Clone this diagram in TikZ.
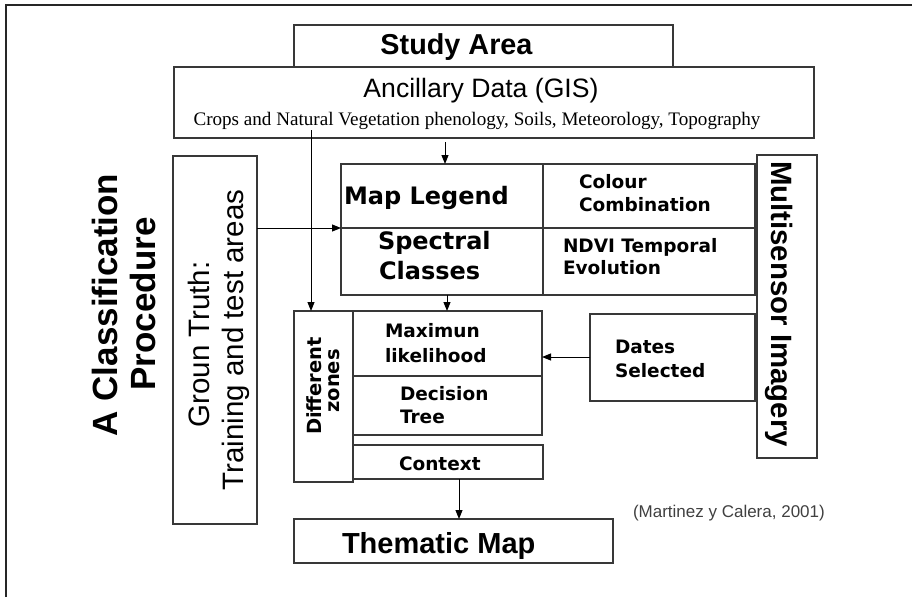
\documentclass[tikz,border=0pt]{standalone}
\usepackage{fontspec}
\setmainfont{Liberation Serif}
\newfontfamily\arialf{Liberation Sans}
\newfontfamily\verdf{DejaVu Sans}
\usetikzlibrary{arrows.meta}
\newcommand{\fsz}[1]{\fontsize{#1}{#1}\selectfont}

\begin{document}
\begin{tikzpicture}[x=1pt,y=-1pt,
  box/.style={draw=black!78, line width=1.4pt, inner sep=0pt, outer sep=0pt, anchor=north west},
  arr/.style={draw=black, line width=1pt, -{Triangle[length=9pt,width=7pt]}},
  lbl/.style={inner sep=0pt, outer sep=0pt, anchor=base west},
  vb/.style={lbl, font=\verdf\bfseries\fsz{18.5}},
  vbig/.style={lbl, font=\verdf\bfseries\fsz{24}},
  ab/.style={font=\arialf\bfseries\fsz{#1}},
  ar/.style={font=\arialf\fsz{#1}},
]
\useasboundingbox (0,0) rectangle (912,597);

% page frame (top and left rules)
\draw[line width=2.2pt, black!85] (6,597) -- (6,5) -- (912,5);

% boxes
\node[box, minimum width=379pt, minimum height=42pt] (study) at (294,25) {};
\node[box, minimum width=640pt, minimum height=71pt, fill=white] (anc) at (174,67) {};
\node[box, minimum width=84pt,  minimum height=368pt] (gt) at (173,156) {};
\node[box, minimum width=202pt, minimum height=64pt] (ml) at (341,164) {};
\node[box, minimum width=212pt, minimum height=64pt] (cc) at (543,164) {};
\node[box, minimum width=202pt, minimum height=67pt] (sc) at (341,228) {};
\node[box, minimum width=212pt, minimum height=67pt] (ndvi) at (543,228) {};
\node[box, minimum width=60pt,  minimum height=303pt] (multi) at (757,155) {};
\node[box, minimum width=59pt,  minimum height=171pt] (dz) at (294,311) {};
\node[box, minimum width=189pt, minimum height=65pt] (maxl) at (353,311) {};
\node[box, minimum width=189pt, minimum height=59pt] (dt) at (353,376) {};
\node[box, minimum width=190pt, minimum height=34pt] (ctx) at (353,445) {};
\node[box, minimum width=165pt, minimum height=87pt] (dates) at (590,314) {};
\node[box, minimum width=319pt, minimum height=44pt] (them) at (294,519) {};

% texts
\node[ab=28.8, inner sep=0pt, anchor=base] (tstudy) at (456.5,54) {Study Area};
\node[ar=26.6, inner sep=0pt, anchor=base] (tanc) at (481,97) {Ancillary Data (GIS)};
\node[font=\fsz{19.1}, inner sep=0pt, anchor=base] (tsub) at (477,125)
  {Crops and Natural Vegetation phenology, Soils, Meteorology, Topography};

\node[ab=35, inner sep=0pt, anchor=base, rotate=90] (tac1) at (117,305) {A Classification};
\node[ab=35, inner sep=0pt, anchor=base, rotate=90] (tac2) at (155,304) {Procedure};

\node[ar=29.5, inner sep=0pt, anchor=base, rotate=90] (tgt1) at (209,344.5) {Groun Truth:};
\node[ar=29.5, inner sep=0pt, anchor=base, rotate=90] (tgt2) at (243,340) {Training and test areas};

\node[ab=29.4, inner sep=0pt, anchor=base, rotate=-90] (tmulti) at (771,304) {Multisensor Imagery};

\node[vbig] (tml) at (344,204) {Map Legend};
\node[vbig] (tsc1) at (378,249) {Spectral};
\node[vbig] (tsc2) at (379,279) {Classes};
\node[vb] (tcc1) at (579,188) {Colour};
\node[vb] (tcc2) at (579,211) {Combination};
\node[vb] (tnd1) at (563,252) {NDVI Temporal};
\node[vb] (tnd2) at (563,274) {Evolution};

\node[font=\verdf\bfseries\fsz{19.5}, inner sep=0pt, anchor=base, rotate=90] (tdz1) at (321,386) {Different};
\node[font=\verdf\bfseries\fsz{19.5}, inner sep=0pt, anchor=base, rotate=90] (tdz2) at (339,381) {zones};

\node[vb] (tmx1) at (385,337) {Maximun};
\node[vb] (tmx2) at (385,362) {likelihood};
\node[vb] (tdt1) at (400,400) {Decision};
\node[vb] (tdt2) at (400,423) {Tree};
\node[vb] (tctx) at (399,470) {Context};
\node[vb] (tdd1) at (615,353) {Dates};
\node[vb] (tdd2) at (615,377) {Selected};

\node[ab=29, lbl] (tthem) at (342,553) {Thematic Map};
\node[ar=17, lbl, text=black!75] (tcite) at (633,517) {(Martinez y Calera, 2001)};

% connectors
\coordinate (ancA) at (445,142);
\coordinate (ancB) at (311,130);
\coordinate (xL) at (447,0);
\coordinate (yD) at (0,357);
\coordinate (xC) at (459,0);

\draw[arr] (ancA) -- (ancA |- ml.north);
\draw[arr] (ancB) -- (ancB |- dz.north);
\draw[arr] (gt.east |- ml.south west) -- (ml.south west);
\draw[arr] (sc.south -| xL) -- (maxl.north -| xL);
\draw[arr] (dates.west |- yD) -- (maxl.east |- yD);
\draw[arr] (ctx.south -| xC) -- (them.north -| xC);
\end{tikzpicture}
\end{document}
